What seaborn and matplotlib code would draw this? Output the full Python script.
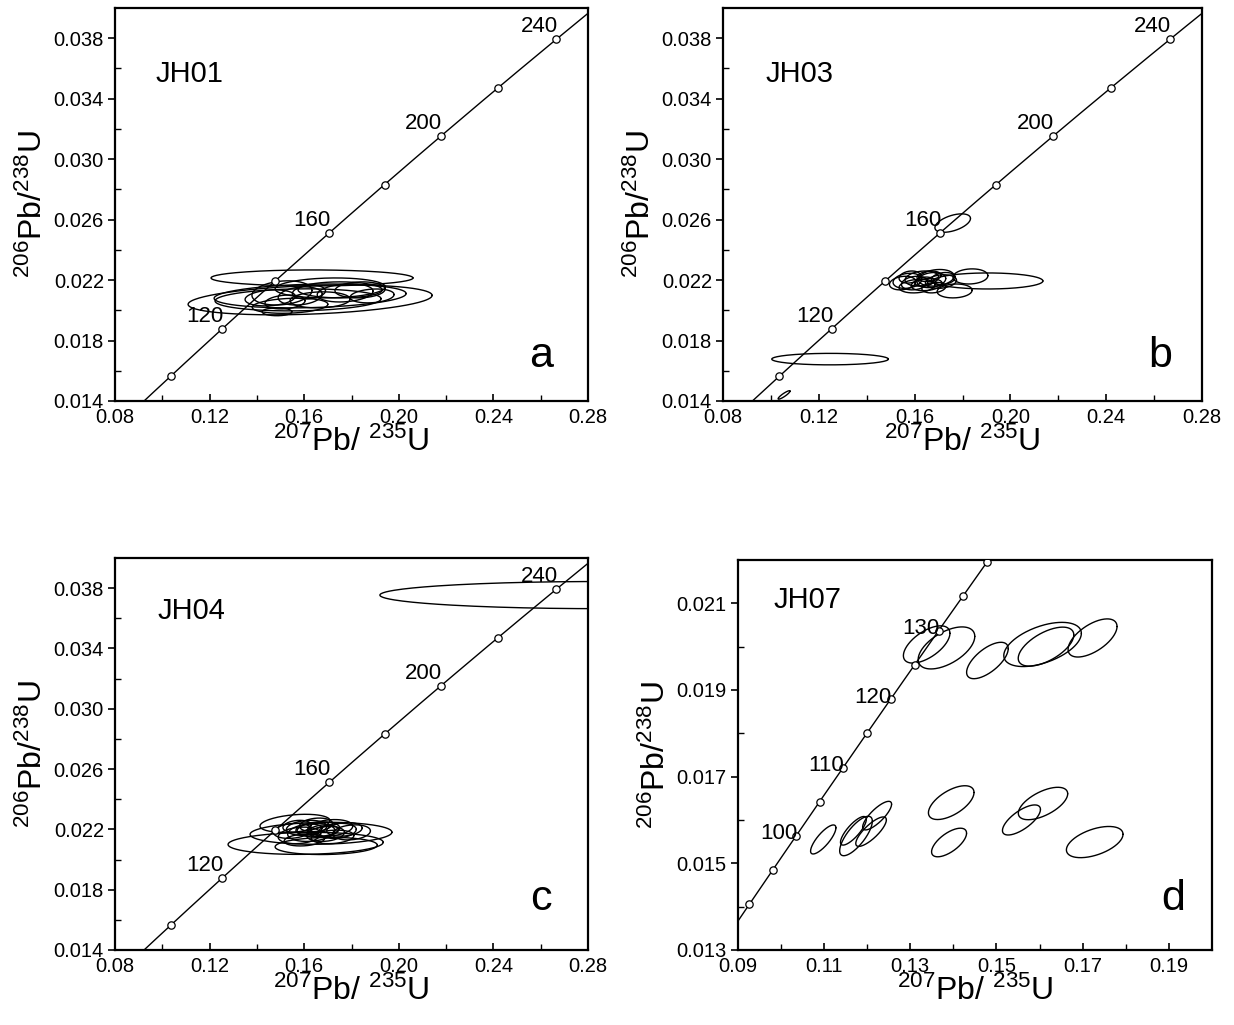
import numpy as np
import pandas as pd
import matplotlib
matplotlib.use("Agg")
import matplotlib.pyplot as plt
import seaborn as sns
from matplotlib.ticker import FixedLocator, FormatStrFormatter

# decay constants (per year) used for the concordia curve
LAMBDA_238 = 1.55125e-10
LAMBDA_235 = 9.8485e-10

# ---------------- panel a : JH01 ----------------
a_cx = [0.1633, 0.1625, 0.1625, 0.1574, 0.1752, 0.1456, 0.1519, 0.1583, 0.1667,
        0.1773, 0.1836, 0.1887, 0.1485, 0.1710, 0.1506, 0.1540, 0.1620]
a_cy = [0.02214, 0.02069, 0.02095, 0.02069, 0.02135, 0.02082, 0.02055, 0.02095, 0.02069,
        0.02115, 0.02135, 0.02095, 0.01990, 0.02148, 0.02115, 0.02030, 0.02120]
a_sx = [0.0427, 0.0516, 0.0406, 0.0351, 0.0178, 0.0106, 0.0085, 0.0093, 0.0127,
        0.0118, 0.0106, 0.0093, 0.0063, 0.0233, 0.0127, 0.0160, 0.0070]
a_sy = [0.00053, 0.00099, 0.00079, 0.00073, 0.00053, 0.00053, 0.00046, 0.00060, 0.00053,
        0.00060, 0.00053, 0.00046, 0.00026, 0.00066, 0.00080, 0.00050, 0.00045]
a_rho = [0.0, 0.3, 0.2, 0.1, 0.0, 0.2, 0.2, 0.2, 0.1, 0.2, 0.1, 0.2, 0.0, 0.1, 0.2, 0.2, 0.2]

# ---------------- panel b : JH03 ----------------
b_cx = [0.1759, 0.1247, 0.1055, 0.1906, 0.1833, 0.1767,
        0.157, 0.160, 0.163, 0.165, 0.167, 0.169, 0.171, 0.161, 0.166, 0.172, 0.158, 0.168, 0.155, 0.164]
b_cy = [0.02577, 0.01677, 0.01440, 0.02194, 0.02224, 0.02128,
        0.02195, 0.0218, 0.0221, 0.0217, 0.0220, 0.02215, 0.0219, 0.0216, 0.02225, 0.0221, 0.0222, 0.0215,
        0.0218, 0.0219]
b_sx = [0.00743, 0.02434, 0.0025, 0.02296, 0.0073, 0.0073,
        0.006, 0.0055, 0.007, 0.0065, 0.006, 0.0075, 0.0065, 0.0075, 0.005, 0.005, 0.0045, 0.005,
        0.0055, 0.0040]
b_sy = [0.00061, 0.00038, 0.00028, 0.00053, 0.00050, 0.00046,
        0.0005, 0.00045, 0.0005, 0.0004, 0.0005, 0.00055, 0.00045, 0.00045, 0.00035, 0.0004, 0.0004, 0.00035,
        0.00045, 0.0003]
b_rho = [0.5, 0.0, 0.9, 0.0, 0.1, 0.1,
         0.2, 0.2, 0.2, 0.2, 0.2, 0.2, 0.2, 0.2, 0.2, 0.2, 0.2, 0.2, 0.2, 0.2]

# ---------------- panel c : JH04 ----------------
c_cx = [0.1606, 0.1671, 0.1561, 0.1693, 0.2850,
        0.155, 0.158, 0.161, 0.163, 0.166, 0.169, 0.171, 0.174, 0.177, 0.160, 0.165, 0.172, 0.180, 0.157,
        0.168, 0.162]
c_cy = [0.02107, 0.02174, 0.02240, 0.02090, 0.03754,
        0.0219, 0.0216, 0.0221, 0.0218, 0.0220, 0.0217, 0.0221, 0.0219, 0.0220, 0.0213, 0.0223, 0.0215,
        0.0218, 0.0222, 0.0219, 0.0220]
c_sx = [0.0328, 0.0300, 0.0148, 0.0216, 0.0930,
        0.008, 0.009, 0.0085, 0.010, 0.009, 0.008, 0.0095, 0.008, 0.0075, 0.0085, 0.007, 0.009, 0.008, 0.006,
        0.0065, 0.0055]
c_sy = [0.00073, 0.00073, 0.00060, 0.00057, 0.00090,
        0.0005, 0.00055, 0.0005, 0.0006, 0.0005, 0.0005, 0.00055, 0.0005, 0.00045, 0.0004, 0.00045, 0.00045,
        0.0005, 0.0004, 0.0004, 0.00035]
c_rho = [0.1, 0.1, 0.3, 0.1, 0.0,
         0.2, 0.2, 0.2, 0.2, 0.2, 0.2, 0.2, 0.2, 0.2, 0.2, 0.2, 0.2, 0.2, 0.2, 0.2, 0.2]

# ---------------- panel d : JH07 ----------------
d_cx = [0.1338, 0.1384, 0.1479, 0.1607, 0.1615, 0.1723,
        0.1098, 0.1174, 0.1168, 0.1209, 0.1223, 0.1395, 0.1390, 0.1558, 0.1608, 0.1728]
d_cy = [0.02005, 0.01997, 0.01968, 0.02005, 0.02000, 0.02020,
        0.01555, 0.01563, 0.01575, 0.01573, 0.01610, 0.01640, 0.01548, 0.01600, 0.01638, 0.01549]
d_sx = [0.0054, 0.00657, 0.00483, 0.0090, 0.00645, 0.00568,
        0.00294, 0.00379, 0.0030, 0.00355, 0.00336, 0.00529, 0.00406, 0.00441, 0.00573, 0.00657]
d_sy = [0.00043, 0.000485, 0.00042, 0.00051, 0.00045, 0.00044,
        0.000335, 0.000455, 0.00033, 0.00034, 0.00033, 0.00039, 0.00033, 0.000347, 0.000374, 0.00036]
d_rho = [0.6, 0.55, 0.65, 0.5, 0.6, 0.6,
         0.8, 0.75, 0.8, 0.8, 0.8, 0.6, 0.65, 0.7, 0.6, 0.5]

# concordia age markers and labels (Ma)
abc_marker_ages = [100, 120, 140, 160, 180, 200, 220, 240]
abc_label_ages = [120, 160, 200, 240]
d_marker_ages = [90, 95, 100, 105, 110, 115, 120, 125, 130, 135, 140]
d_label_ages = [100, 110, 120, 130]

# axis ticks
abc_xticks = [0.08, 0.12, 0.16, 0.20, 0.24, 0.28]
abc_xminor = [0.10, 0.14, 0.18, 0.22, 0.26]
abc_yticks = [0.014, 0.018, 0.022, 0.026, 0.030, 0.034, 0.038]
abc_yminor = [0.016, 0.020, 0.024, 0.028, 0.032, 0.036]
d_xticks = [0.09, 0.11, 0.13, 0.15, 0.17, 0.19]
d_xminor = [0.10, 0.12, 0.14, 0.16, 0.18]
d_yticks = [0.013, 0.015, 0.017, 0.019, 0.021]
d_yminor = [0.014, 0.016, 0.018, 0.020]

samples = ["JH01", "JH03", "JH04", "JH07"]
letters = ["a", "b", "c", "d"]

sns.set_theme(style="ticks")
plt.rcParams["font.family"] = ["Liberation Sans", "DejaVu Sans"]
plt.rcParams["mathtext.fontset"] = "custom"
plt.rcParams["mathtext.rm"] = "Liberation Sans"
plt.rcParams["mathtext.it"] = "Liberation Sans:italic"
plt.rcParams["mathtext.bf"] = "Liberation Sans:bold"
plt.rcParams["text.color"] = "black"
plt.rcParams["axes.labelcolor"] = "black"
plt.rcParams["xtick.color"] = "black"
plt.rcParams["ytick.color"] = "black"

fig = plt.figure(figsize=(12.34, 10.25), dpi=100)
axes_rects = [
    [0.0932, 0.6088, 0.3833, 0.3834],
    [0.5859, 0.6088, 0.3882, 0.3834],
    [0.0932, 0.0732, 0.3833, 0.3824],
    [0.5980, 0.0732, 0.3841, 0.3805],
]


def concordia(t_ma):
    t = np.asarray(t_ma, dtype=float) * 1e6
    return np.exp(LAMBDA_235 * t) - 1.0, np.exp(LAMBDA_238 * t) - 1.0


def draw_ellipses(ax, cx, cy, sx, sy, rho):
    th = np.linspace(0, 2 * np.pi, 200)
    for x0, y0, ex, ey, r in zip(cx, cy, sx, sy, rho):
        xs = x0 + ex * np.cos(th)
        ys = y0 + ey * (r * np.cos(th) + np.sqrt(1 - r * r) * np.sin(th))
        ax.plot(xs, ys, color="black", lw=1.0, zorder=3)


panel_data = [
    (a_cx, a_cy, a_sx, a_sy, a_rho),
    (b_cx, b_cy, b_sx, b_sy, b_rho),
    (c_cx, c_cy, c_sx, c_sy, c_rho),
    (d_cx, d_cy, d_sx, d_sy, d_rho),
]

for i, rect in enumerate(axes_rects):
    ax = fig.add_axes(rect)
    is_d = i == 3
    if is_d:
        xlim, ylim = (0.09, 0.20), (0.013, 0.022)
        mages, lages = d_marker_ages, d_label_ages
        xt, xm, yt, ym = d_xticks, d_xminor, d_yticks, d_yminor
        lab_off = (-12.5, 1.5)
    else:
        xlim, ylim = (0.08, 0.28), (0.014, 0.040)
        mages, lages = abc_marker_ages, abc_label_ages
        xt, xm, yt, ym = abc_xticks, abc_xminor, abc_yticks, abc_yminor
        lab_off = (-12.5, 9)

    # concordia curve
    tc = np.linspace(0, 300, 600)
    cxs, cys = concordia(tc)
    curve = pd.DataFrame({"x": cxs, "y": cys})
    sns.lineplot(data=curve, x="x", y="y", sort=False, color="black", lw=1.0, ax=ax, zorder=2)

    # ellipses
    draw_ellipses(ax, *panel_data[i])

    # age markers
    mx, my = concordia(mages)
    marks = pd.DataFrame({"x": mx, "y": my})
    sns.scatterplot(data=marks, x="x", y="y", s=28, marker="o", facecolor="white",
                    edgecolor="black", linewidth=0.9, ax=ax, zorder=4)
    lx, ly = concordia(lages)
    for age, xx, yy in zip(lages, lx, ly):
        ax.annotate(str(age), (xx, yy), xytext=lab_off, textcoords="offset points",
                    ha="center", va="center", fontsize=16, color="black", zorder=5)

    ax.set_xlim(*xlim)
    ax.set_ylim(*ylim)
    ax.xaxis.set_major_locator(FixedLocator(xt))
    ax.xaxis.set_minor_locator(FixedLocator(xm))
    ax.yaxis.set_major_locator(FixedLocator(yt))
    ax.yaxis.set_minor_locator(FixedLocator(ym))
    ax.xaxis.set_major_formatter(FormatStrFormatter("%.2f"))
    ax.yaxis.set_major_formatter(FormatStrFormatter("%.3f"))
    ax.tick_params(axis="x", which="major", direction="in", length=5, width=1.2,
                   labelsize=14.5, pad=5, colors="black")
    ax.tick_params(axis="x", which="minor", direction="in", length=4, width=1.0)
    ax.tick_params(axis="y", which="major", direction="out", length=5, width=1.2,
                   labelsize=14.5, pad=3, colors="black")
    ax.tick_params(axis="y", which="minor", direction="in", length=4, width=1.0)
    for sp in ax.spines.values():
        sp.set_visible(True)
        sp.set_linewidth(1.6)
        sp.set_color("black")

    ax.set_xlabel(r"$^{207}$Pb/ $^{235}$U", fontsize=23, labelpad=0)
    ax.set_ylabel(r"$^{206}$Pb/$^{238}$U", fontsize=23, labelpad=3)

    lbl_pos = [(0.085, 0.832), (0.088, 0.832), (0.090, 0.865), (0.075, 0.898)][i]
    ax.text(lbl_pos[0], lbl_pos[1], samples[i], transform=ax.transAxes,
            fontsize=21, ha="left", va="center")
    let_pos = [(0.90, 0.115), (0.912, 0.115), (0.90, 0.13), (0.918, 0.13)][i]
    ax.text(let_pos[0], let_pos[1], letters[i], transform=ax.transAxes,
            fontsize=31, ha="center", va="center")

fig.savefig("out.png", dpi=100)
